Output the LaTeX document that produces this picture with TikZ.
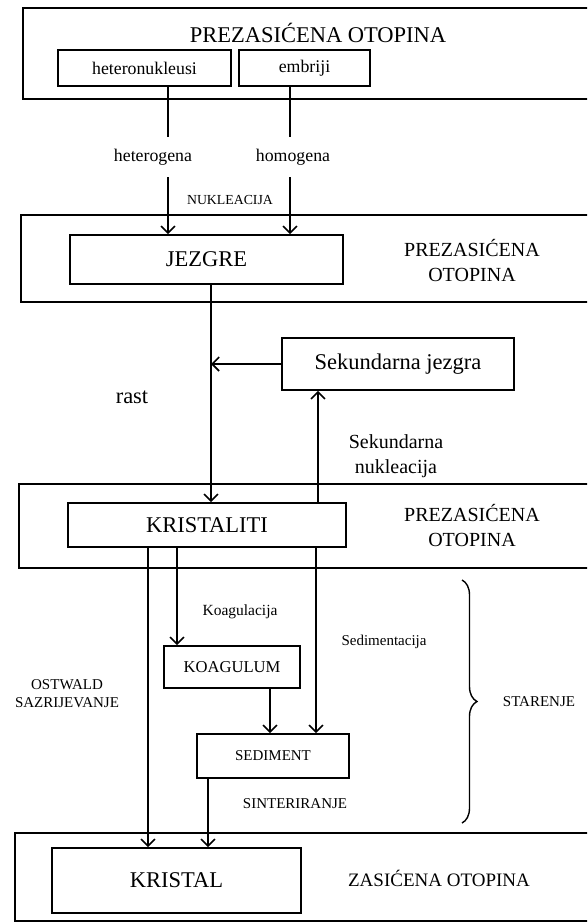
\documentclass[tikz,border=0pt]{standalone}
\usepackage{fontspec}
\setmainfont{Liberation Serif}
\usetikzlibrary{arrows.meta,decorations.pathreplacing}

\begin{document}
\begin{tikzpicture}[x=1pt,y=-1pt,line width=1.6pt,
    >={Straight Barb[length=7pt,width=14pt]},
    zone/.style={draw,rectangle,inner sep=0pt},
    stage/.style={draw,rectangle,inner sep=0pt},
    huge/.style={font=\fontsize{22.5}{26}\selectfont},
    big/.style={font=\fontsize{20}{25}\selectfont,align=center},
    mid/.style={font=\fontsize{17.8}{21}\selectfont},
    small/.style={font=\fontsize{15}{18}\selectfont,align=center}]
    \clip (0,0) rectangle (587,924);
    \fill[white] (0,0) rectangle (587,924);

    % Solution zones
    \node (zone1) at (321.5,53.5) [zone,minimum width=597pt,minimum height=91pt] {};
    \node (zone2) at (320.5,258.5) [zone,minimum width=599pt,minimum height=87pt] {};
    \node (zone3) at (319.5,526) [zone,minimum width=601pt,minimum height=84pt] {};
    \node (zone4) at (317.5,877) [zone,minimum width=605pt,minimum height=88pt] {};

    % Stages
    \node (het) at (144.5,68) [stage,mid,minimum width=173pt,minimum height=36pt] {heteronukleusi};
    \node (emb) at (304.5,68) [stage,mid,minimum width=131pt,minimum height=36pt] {embriji};
    \node (jez) at (206.5,259.5) [stage,huge,minimum width=273pt,minimum height=49pt] {JEZGRE};
    \node (sek) at (398,364) [stage,huge,minimum width=232pt,minimum height=52pt] {Sekundarna jezgra};
    \node (kri) at (207,525) [stage,huge,minimum width=278pt,minimum height=44pt] {KRISTALITI};
    \node (koa) at (232,667) [stage,font=\fontsize{16.6}{20}\selectfont,minimum width=136pt,minimum height=42pt] {KOAGULUM};
    \node (sed) at (273,756) [stage,small,minimum width=152pt,minimum height=44pt] {SEDIMENT};
    \node (kal) at (176.5,880.5) [stage,huge,minimum width=249pt,minimum height=65pt] {KRISTAL};

    % Labels
    \node (title) at (318,33) [huge] {PREZASIĆENA OTOPINA};
    \node (hetlab) at (153,157) [mid] {heterogena};
    \node (homlab) at (293,157) [mid] {homogena};
    \node (nuk) at (230,200) [font=\fontsize{13.8}{16}\selectfont] {NUKLEACIJA};
    \node (sol2) at (472,261) [big] {PREZASIĆENA\\OTOPINA};
    \node (rast) at (132,397) [huge] {rast};
    \node (seknuk) at (396,456) [big] {Sekundarna\\nukleacija};
    \node (sol3) at (472,526) [big] {PREZASIĆENA\\OTOPINA};
    \node (koalab) at (240,612) [font=\fontsize{15.5}{18}\selectfont] {Koagulacija};
    \node (sedlab) at (384,642) [small] {Sedimentacija};
    \node (ost) at (67,694) [small] {OSTWALD\\SAZRIJEVANJE};
    \node (star) at (539,702) [small] {STARENJE};
    \node (sint) at (295,804) [small] {SINTERIRANJE};
    \node (sol4) at (439,878) [font=\fontsize{19}{23}\selectfont] {ZASIĆENA OTOPINA};

    % Column positions
    \coordinate (hetA) at (168,137);
    \coordinate (hetB) at (168,177);
    \coordinate (homA) at (290,137);
    \coordinate (homB) at (290,177);
    \coordinate (growth) at (211,364);
    \coordinate (colsek) at (318,450);
    \coordinate (colkoa) at (177,620);
    \coordinate (colsed) at (316,700);
    \coordinate (colmid) at (270,710);
    \coordinate (colost) at (148,700);
    \coordinate (colsin) at (208,800);

    % Edges
    \draw (het.south -| hetA) -- (hetA);
    \draw[->] (hetB) -- (jez.north -| hetB);
    \draw (emb.south -| homA) -- (homA);
    \draw[->] (homB) -- (jez.north -| homB);
    \draw[->] (jez.south -| growth) -- (kri.north -| growth);
    \draw[->] (sek.west) -- (growth);
    \draw[->] (kri.north -| colsek) -- (sek.south -| colsek);
    \draw[->] (kri.south -| colkoa) -- (koa.north -| colkoa);
    \draw[->] (kri.south -| colsed) -- (sed.north -| colsed);
    \draw[->] (koa.south -| colmid) -- (sed.north -| colmid);
    \draw[->] (kri.south -| colost) -- (kal.north -| colost);
    \draw[->] (sed.south -| colsin) -- (kal.north -| colsin);

    % Ageing brace
    \draw[line width=1.4pt,decorate,decoration={brace,amplitude=15pt}] (462,580) -- (462,823);
\end{tikzpicture}
\end{document}
